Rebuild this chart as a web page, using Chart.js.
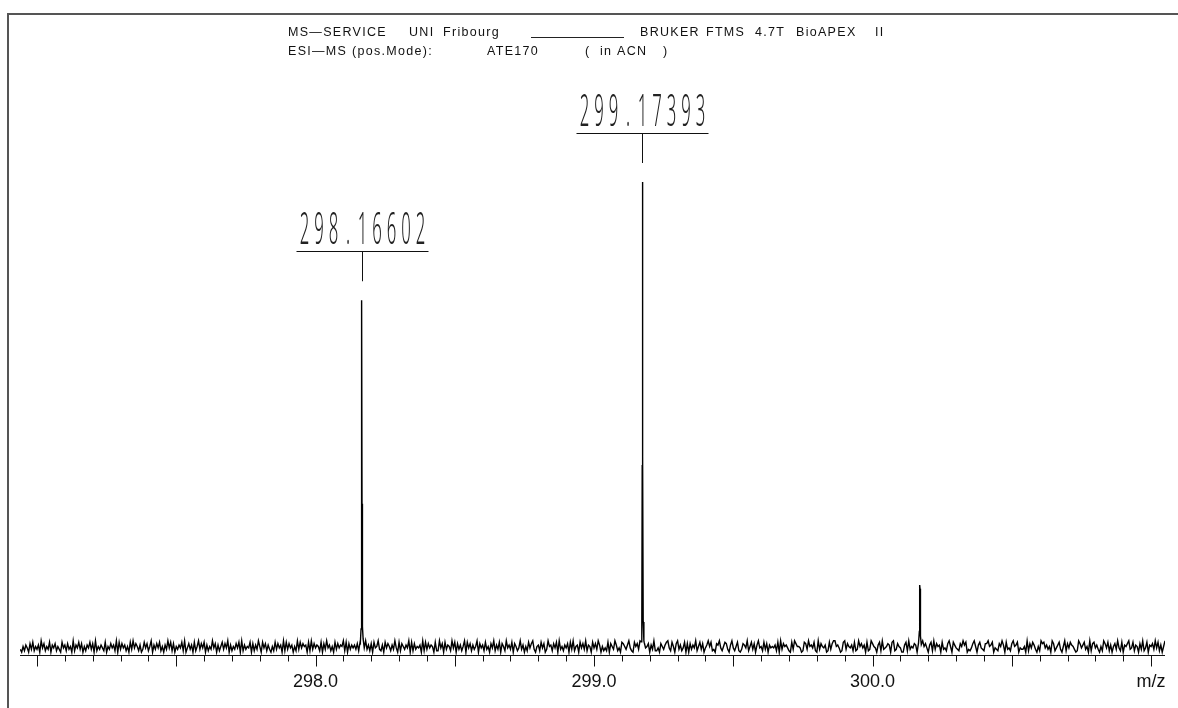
<!DOCTYPE html>
<html>
<head>
<meta charset="utf-8">
<script src="https://cdn.jsdelivr.net/npm/chart.js@4.4.1/dist/chart.umd.min.js"></script>
<style>
  body { margin: 0; background: #fff; }
  #wrap { width: 1178px; height: 708px; position: relative; }
</style>
</head>
<body>
<div id="wrap"><canvas id="spectrum"></canvas></div>
<script>
// m/z axis
const xMin = 296.939;
const xMax = 301.05;
const tickLabelValues = [298.0, 299.0, 300.0, 301.0];
const tickLabels = ["298.0", "299.0", "300.0", "m/z"];

// baseline noise, one digit per 0.005 m/z, 0..9 ~ 0.3..3.0 % of base peak
const noiseStart = 296.94;
const noiseStep = 0.005;
const noiseDigits = [
  "315264173825361947253816472531846273519264837152648371925364",
  "281537462918374625183947526138472591637482516394827153648291",
  "473618259374816253947162583749162537481926354817263951847263",
  "152837461928374615293847561829374652817394625183746592817364",
  "637281549362718459326184752639418275364918273546192837465182",
  "294718365294817362591847263591746283517492638175294638175249",
  "361528479315628471395627481935264718392561847392651847396152",
  "428175396241875369421857396284571639224175368942851793624817",
  "173649258371469582317694258731694258213764925837169452837164",
  "546281937564218397554128739564821937546128379956412893754628",
  "239574618239754168293457618923754116829354761823957416829375",
  "618342795186432759681324795168432779568143275961834279568143",
  "351927486315297846351972468315927486531297468351927846315297",
  "482615739428165793482651739248165739482615973428165793482651"
].join("");

// peak profiles (m/z, relative intensity %)
const peak1Mz = [298.1610, 298.1635, 298.1650, 298.16602, 298.1670, 298.1685, 298.1710];
const peak1Int = [2.6, 5.5, 30, 75, 32, 6, 3.4];
const peak2Mz = [299.1690, 299.1715, 299.1730, 299.17393, 299.1749, 299.1765, 299.1790];
const peak2Int = [2.8, 6, 40, 100, 42, 7, 3];
const peak3Mz = [300.1650, 300.1680, 300.1692, 300.1705, 300.1720, 300.1750];
const peak3Int = [2.5, 5, 14.8, 14, 4, 2.2];

// labelled peaks
const labelMz = [298.16602, 299.17393];
const labelInt = [75, 100];
const labelText = ["298.16602", "299.17393"];

const peaks = [[peak1Mz, peak1Int], [peak2Mz, peak2Int], [peak3Mz, peak3Int]];

const points = [];
for (let i = 0; i < noiseDigits.length; i++) {
  const x = noiseStart + i * noiseStep;
  // skip noise samples that fall inside a peak profile
  const inPeak = peaks.some(([mz]) => x >= mz[0] && x <= mz[mz.length - 1]);
  if (inPeak) continue;
  points.push({ x: x, y: 0.3 + 0.3 * Number(noiseDigits[i]) });
}
peaks.forEach(([mz, inten]) => {
  mz.forEach((m, j) => points.push({ x: m, y: inten[j] }));
});
points.sort((a, b) => a.x - b.x);

// frame, header, axis and peak labels
const decorations = {
  id: "decorations",
  afterDraw(chart) {
    const ctx = chart.ctx;
    const xs = chart.scales.x;
    const ys = chart.scales.y;
    const area = chart.chartArea;
    ctx.save();

    // frame
    ctx.strokeStyle = "#555";
    ctx.lineWidth = 2;
    ctx.beginPath();
    ctx.moveTo(8, 708);
    ctx.lineTo(8, 14);
    ctx.lineTo(1178, 14);
    ctx.stroke();

    // header
    ctx.fillStyle = "#111";
    ctx.font = "12.5px 'Liberation Sans', Arial, sans-serif";
    ctx.letterSpacing = "1.3px";
    ctx.textBaseline = "middle";
    ctx.textAlign = "left";
    const line1 = [["MS\u2014SERVICE", 288], ["UNI", 409], ["Fribourg", 443], ["BRUKER", 640], ["FTMS", 706], ["4.7T", 755], ["BioAPEX", 796], ["II", 875]];
    const line2 = [["ESI\u2014MS", 288], ["(pos.Mode):", 352], ["ATE170", 487], ["(", 585], ["in ACN", 600], [")", 663]];
    line1.forEach(([t, x]) => ctx.fillText(t, x, 33));
    line2.forEach(([t, x]) => ctx.fillText(t, x, 52));
    ctx.letterSpacing = "0px";
    ctx.lineWidth = 1;
    ctx.strokeStyle = "#222";
    ctx.beginPath();
    ctx.moveTo(531, 37.5);
    ctx.lineTo(624, 37.5);
    ctx.stroke();

    // x axis line and ticks
    const axisY = Math.round(area.bottom) + 0.5;
    ctx.strokeStyle = "#111";
    ctx.lineWidth = 1;
    ctx.beginPath();
    ctx.moveTo(area.left, axisY);
    ctx.lineTo(area.right, axisY);
    for (let k = 2970; k <= 3010; k++) {
      const px = Math.round(xs.getPixelForValue(k / 10)) + 0.5;
      const len = k % 5 === 0 ? 11 : 6;
      ctx.moveTo(px, axisY);
      ctx.lineTo(px, axisY + len);
    }
    ctx.stroke();

    ctx.fillStyle = "#111";
    ctx.font = "18px 'Liberation Sans', Arial, sans-serif";
    ctx.textAlign = "center";
    ctx.textBaseline = "middle";
    tickLabelValues.forEach((v, i) => {
      ctx.fillText(tickLabels[i], xs.getPixelForValue(v), 682);
    });

    // peak annotations
    ctx.fillStyle = "#222";
    ctx.strokeStyle = "#111";
    labelMz.forEach((m, i) => {
      const px = Math.round(xs.getPixelForValue(m)) + 0.5;
      const top = ys.getPixelForValue(labelInt[i]);
      const ul = Math.round(top - 49) + 0.5;
      ctx.beginPath();
      ctx.moveTo(px - 66, ul);
      ctx.lineTo(px + 66, ul);
      ctx.moveTo(px, ul);
      ctx.lineTo(px, top - 19);
      ctx.stroke();

      const txt = labelText[i];
      const pitch = 14.5;
      ctx.font = "300 44px 'Noto Sans', sans-serif";
      ctx.textAlign = "center";
      ctx.textBaseline = "alphabetic";
      for (let c = 0; c < txt.length; c++) {
        const cx = px - (txt.length - 1) / 2 * pitch + c * pitch;
        ctx.save();
        ctx.translate(cx, ul - 8);
        ctx.scale(0.38, 1);
        ctx.fillText(txt[c], 0, 0);
        ctx.restore();
      }
    });

    ctx.restore();
  }
};

new Chart(document.getElementById("spectrum"), {
  type: "line",
  data: {
    datasets: [{
      data: points,
      borderColor: "#000",
      borderWidth: 1.4,
      pointRadius: 0,
      tension: 0,
      fill: false
    }]
  },
  options: {
    responsive: true,
    maintainAspectRatio: false,
    animation: false,
    parsing: false,
    layout: { padding: { left: 20, right: 13, top: 182, bottom: 53 } },
    plugins: { legend: { display: false }, tooltip: { enabled: false } },
    scales: {
      x: { type: "linear", min: xMin, max: xMax, display: false },
      y: { min: 0, max: 100, display: false }
    }
  },
  plugins: [decorations]
});
</script>
</body>
</html>
